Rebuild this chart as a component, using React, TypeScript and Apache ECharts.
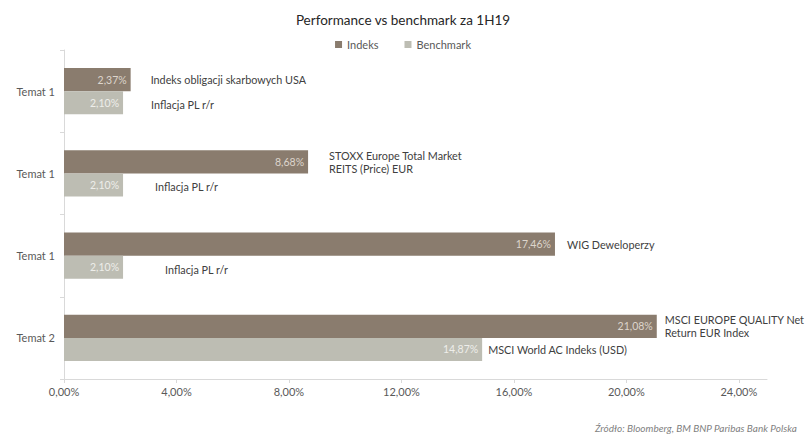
import React, { useEffect, useRef } from "react";
import * as echarts from "echarts";

const categories = ["Temat 1", "Temat 1", "Temat 1", "Temat 2"];
const indeksValues = [2.37, 8.68, 17.46, 21.08];
const benchmarkValues = [2.1, 2.1, 2.1, 14.87];
const indeksNames = [
  "Indeks obligacji skarbowych USA",
  "STOXX Europe Total Market\nREITS (Price) EUR",
  "WIG Deweloperzy",
  "MSCI EUROPE QUALITY Net\nReturn EUR Index",
];
const benchmarkNames = [
  "Inflacja PL r/r",
  "Inflacja PL r/r",
  "Inflacja PL r/r",
  "MSCI World AC Indeks (USD)",
];
const xTicks = [0, 4, 8, 12, 16, 20, 24];

// label gaps (style only)
const indeksGaps = [20, 21, 12, 8];
const benchmarkGaps = [28, 32, 42, 6];

const FONT = "Lato";
const DARK = "#8a7c6e";
const LIGHT = "#bdbdb3";

const fmt = (v: number) => v.toFixed(2).replace(".", ",") + "%";

export default function App() {
  const ref = useRef<HTMLDivElement>(null);
  useEffect(() => {
    document.body.style.margin = "0";
    const chart = echarts.init(ref.current!, null, { renderer: "svg" });
    const barCommon = {
      type: "bar",
      barCategoryGap: "44%",
      barGap: "0%",
    };
    chart.setOption({
      animation: false,
      textStyle: { fontFamily: FONT },
      title: {
        text: "Performance vs benchmark za 1H19",
        left: "center",
        top: 8,
        textStyle: { fontFamily: FONT, fontSize: 13.5, fontWeight: "normal", color: "#262626" },
      },
      legend: {
        data: ["Indeks", "Benchmark"],
        top: 34,
        left: "center",
        itemWidth: 7,
        itemHeight: 7,
        itemGap: 26,
        icon: "rect",
        textStyle: { fontFamily: FONT, fontSize: 11, color: "#595959" },
      },
      grid: { left: 64, right: 39, top: 50, bottom: 55 },
      xAxis: {
        type: "value",
        min: 0,
        max: 25,
        interval: 4,
        splitLine: { show: false },
        axisLine: { show: true, lineStyle: { color: "#d9d9d9" } },
        axisTick: { show: true, length: 4, lineStyle: { color: "#d9d9d9" }, customValues: xTicks },
        axisLabel: {
          customValues: xTicks,
          formatter: (v: number) => fmt(v),
          color: "#595959",
          fontSize: 11,
          fontFamily: FONT,
          margin: 7,
        },
      },
      yAxis: [
        {
          type: "category",
          data: categories,
          inverse: true,
          axisLine: { show: true, lineStyle: { color: "#d9d9d9" } },
          axisTick: { show: true, length: 4, lineStyle: { color: "#d9d9d9" } },
          axisLabel: { color: "#595959", fontSize: 11, fontFamily: FONT, margin: 9 },
        },
        {
          type: "category",
          data: categories,
          inverse: true,
          show: false,
        },
      ],
      series: [
        {
          ...barCommon,
          name: "Indeks",
          data: indeksValues,
          itemStyle: { color: DARK },
          label: {
            show: true,
            position: "insideRight",
            formatter: (p: any) => fmt(p.value),
            color: "#ddd5cc",
            fontSize: 10.5,
            fontFamily: FONT,
            distance: 4,
          },
        },
        {
          ...barCommon,
          name: "Benchmark",
          data: benchmarkValues,
          itemStyle: { color: LIGHT },
          label: {
            show: true,
            position: "insideRight",
            formatter: (p: any) => fmt(p.value),
            color: "#eeeeea",
            fontSize: 10.5,
            fontFamily: FONT,
            distance: 4,
          },
        },
        {
          ...barCommon,
          name: "IndeksNames",
          yAxisIndex: 1,
          silent: true,
          itemStyle: { color: "rgba(0,0,0,0)" },
          data: indeksValues.map((v, i) => ({
            value: v,
            label: {
              show: true,
              position: "right",
              distance: indeksGaps[i],
              formatter: indeksNames[i],
              color: "#404040",
              fontSize: 10.8,
              lineHeight: 13,
              fontFamily: FONT,
            },
          })),
        },
        {
          ...barCommon,
          name: "BenchmarkNames",
          yAxisIndex: 1,
          silent: true,
          itemStyle: { color: "rgba(0,0,0,0)" },
          data: benchmarkValues.map((v, i) => ({
            value: v,
            label: {
              show: true,
              position: "right",
              distance: benchmarkGaps[i],
              offset: [0, i < 3 ? 2 : 0],
              formatter: benchmarkNames[i],
              color: "#404040",
              fontSize: 10.8,
              lineHeight: 13,
              fontFamily: FONT,
            },
          })),
        },
      ],
      graphic: [
        {
          type: "text",
          right: 9,
          bottom: 1,
          style: {
            text: "Źródło: Bloomberg, BM BNP Paribas Bank Polska",
            fontFamily: FONT,
            fontStyle: "italic",
            fontSize: 10,
            fill: "#7f7f7f",
          },
        },
      ],
    });
    return () => chart.dispose();
  }, []);
  return (
    <div
      ref={ref}
      style={{ width: 806, height: 434, position: "absolute", left: 0, top: 0 }}
    />
  );
}
